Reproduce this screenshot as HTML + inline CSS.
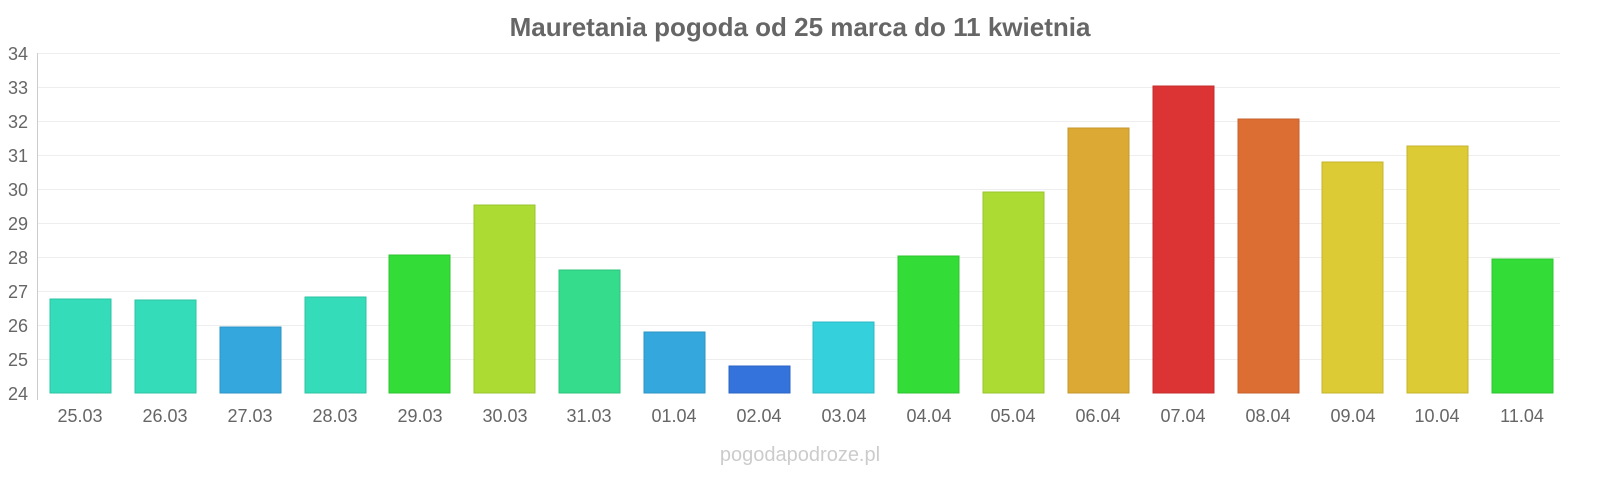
<!DOCTYPE html>
<html><head><meta charset="utf-8"><style>
body{margin:0;background:#fff;}
svg{display:block;font-family:"Liberation Sans",sans-serif;}
</style></head><body>
<svg width="1600" height="480" viewBox="0 0 1600 480">
<text x="800" y="36" text-anchor="middle" font-size="26" font-weight="bold" fill="#666">Mauretania pogoda od 25 marca do 11 kwietnia</text>
<g stroke="#eee" stroke-width="1">
<line x1="38" x2="1560" y1="53.5" y2="53.5"/><line x1="38" x2="1560" y1="87.5" y2="87.5"/>
<line x1="38" x2="1560" y1="121.5" y2="121.5"/><line x1="38" x2="1560" y1="155.5" y2="155.5"/>
<line x1="38" x2="1560" y1="189.5" y2="189.5"/><line x1="38" x2="1560" y1="223.5" y2="223.5"/>
<line x1="38" x2="1560" y1="257.5" y2="257.5"/><line x1="38" x2="1560" y1="291.5" y2="291.5"/>
<line x1="38" x2="1560" y1="325.5" y2="325.5"/><line x1="38" x2="1560" y1="359.5" y2="359.5"/>
</g>
<line x1="37.5" x2="37.5" y1="53" y2="400" stroke="#ccc"/>
<g font-size="18" fill="#666" text-anchor="end">
<text x="28" y="60">34</text><text x="28" y="94">33</text><text x="28" y="128">32</text><text x="28" y="162">31</text><text x="28" y="196">30</text><text x="28" y="230">29</text><text x="28" y="264">28</text><text x="28" y="298">27</text><text x="28" y="332">26</text><text x="28" y="366">25</text><text x="28" y="400">24</text>
</g>
<g stroke-width="1">
<rect x="50" y="299" width="61" height="94" fill="#34dcb9" stroke="#2cc4a4"/>
<rect x="135" y="300" width="61" height="93" fill="#34dcb9" stroke="#2cc4a4"/>
<rect x="220" y="327" width="61" height="66" fill="#34a8dc" stroke="#2c94c4"/>
<rect x="305" y="297" width="61" height="96" fill="#34dcb9" stroke="#2cc4a4"/>
<rect x="389" y="255" width="61" height="138" fill="#34dc38" stroke="#2cc42f"/>
<rect x="474" y="205" width="61" height="188" fill="#acdc34" stroke="#99c42c"/>
<rect x="559" y="270" width="61" height="123" fill="#34dc8c" stroke="#2cc47b"/>
<rect x="644" y="332" width="61" height="61" fill="#34a8dc" stroke="#2c94c4"/>
<rect x="729" y="366" width="61" height="27" fill="#3473dc" stroke="#2c65c4"/>
<rect x="813" y="322" width="61" height="71" fill="#34d0dc" stroke="#2cb9c4"/>
<rect x="898" y="256" width="61" height="137" fill="#34dc38" stroke="#2cc42f"/>
<rect x="983" y="192" width="61" height="201" fill="#acdc34" stroke="#99c42c"/>
<rect x="1068" y="128" width="61" height="265" fill="#dcaa34" stroke="#c4972c"/>
<rect x="1153" y="86" width="61" height="307" fill="#dc3434" stroke="#c42c2c"/>
<rect x="1238" y="119" width="61" height="274" fill="#dc6e34" stroke="#c4612c"/>
<rect x="1322" y="162" width="61" height="231" fill="#dccb34" stroke="#c4b42c"/>
<rect x="1407" y="146" width="61" height="247" fill="#dccb34" stroke="#c4b42c"/>
<rect x="1492" y="259" width="61" height="134" fill="#34dc38" stroke="#2cc42f"/>
</g>
<g font-size="18" fill="#666" text-anchor="middle">
<text x="80" y="422">25.03</text><text x="165" y="422">26.03</text><text x="250" y="422">27.03</text><text x="335" y="422">28.03</text><text x="420" y="422">29.03</text><text x="505" y="422">30.03</text><text x="589" y="422">31.03</text><text x="674" y="422">01.04</text><text x="759" y="422">02.04</text><text x="844" y="422">03.04</text><text x="929" y="422">04.04</text><text x="1013" y="422">05.04</text><text x="1098" y="422">06.04</text><text x="1183" y="422">07.04</text><text x="1268" y="422">08.04</text><text x="1353" y="422">09.04</text><text x="1437" y="422">10.04</text><text x="1522" y="422">11.04</text>
</g>
<text x="800" y="461" text-anchor="middle" font-size="20" fill="#ccc">pogodapodroze.pl</text>
</svg>
</body></html>
